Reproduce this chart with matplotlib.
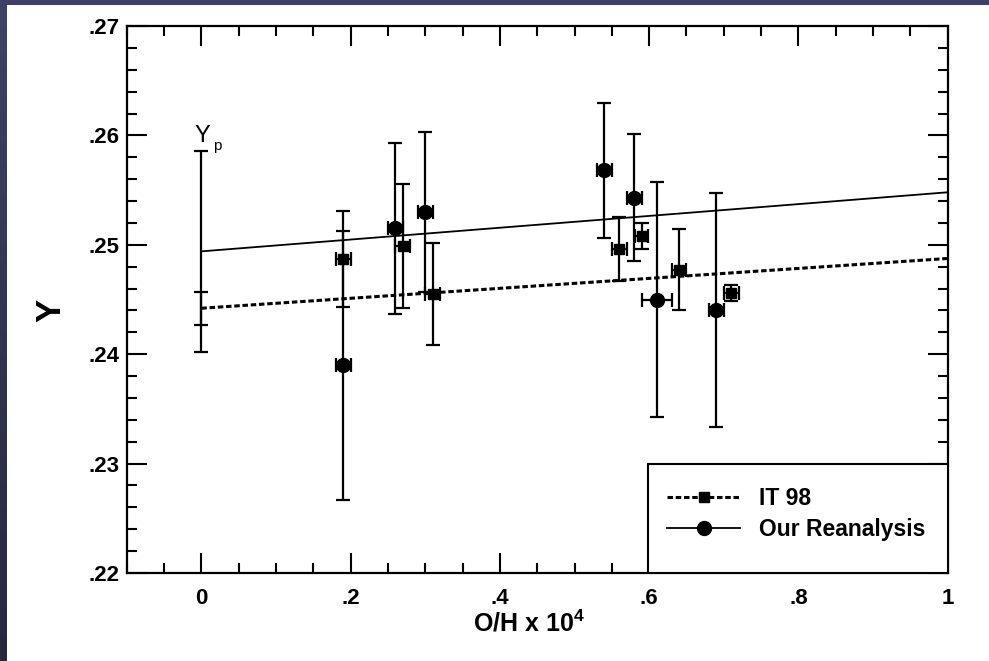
import numpy as np
import matplotlib
matplotlib.use('Agg')
import matplotlib.pyplot as plt
from matplotlib.patches import Rectangle
from matplotlib.lines import Line2D
from matplotlib.ticker import MultipleLocator, FuncFormatter

plt.rcParams['font.family'] = ['Liberation Sans', 'DejaVu Sans']

# IT 98 helium abundances (squares)
it_oh = [0.19, 0.27, 0.31, 0.56, 0.59, 0.64, 0.71]
it_y = [0.2487, 0.2499, 0.2455, 0.2496, 0.2508, 0.2477, 0.2456]
it_yerr = [0.0044, 0.0057, 0.0047, 0.0029, 0.0012, 0.0037, 0.0007]
it_oherr = [0.01, 0.01, 0.01, 0.01, 0.009, 0.01, 0.01]

# reanalysed abundances (circles)
re_oh = [0.19, 0.26, 0.30, 0.54, 0.58, 0.61, 0.69]
re_y = [0.2390, 0.2515, 0.2530, 0.2568, 0.2543, 0.2450, 0.2440]
re_yerr = [0.0123, 0.0078, 0.0073, 0.0062, 0.0058, 0.0107, 0.0107]
re_oherr = [0.01, 0.01, 0.01, 0.01, 0.01, 0.02, 0.01]

# linear fits: Y = Yp + slope * O/H
it_yp, it_yp_err, it_slope = 0.2442, 0.0015, 0.00455
re_yp, re_yp_err, re_slope = 0.2494, 0.0092, 0.0054

W, H = 989, 661
fig = plt.figure(figsize=(W / 100, H / 100), dpi=100)
fig.patch.set_facecolor('white')

# slide frame: dark strips along the top and left edge
band = fig.add_axes([0, 0, 7 / W, 1])
grad = np.linspace(0, 1, 200)[:, None]
top_col = np.array([62, 66, 100]) / 255
bot_col = np.array([38, 40, 62]) / 255
band.imshow(top_col + grad[..., None] * (bot_col - top_col), aspect='auto',
            extent=[0, 1, 0, 1])
band.axis('off')
fig.add_artist(Rectangle((0, 1 - 5 / H), 1, 5 / H, transform=fig.transFigure,
                         color='#3d4064', lw=0))

ax = fig.add_axes([126.7 / W, 1 - 573 / H, 821 / W, 547 / H])
ax.set_xlim(-0.1, 1.0)
ax.set_ylim(0.22, 0.27)

eb = dict(color='black', ecolor='black', elinewidth=1.6, capsize=5, capthick=1.6,
          linestyle='none')
ax.errorbar(it_oh, it_y, yerr=it_yerr, xerr=it_oherr, fmt='s', ms=6.5, **eb)
ax.errorbar(re_oh, re_y, yerr=re_yerr, xerr=re_oherr, fmt='o', ms=10, **eb)

# primordial values at O/H = 0
ax.errorbar([0], [re_yp], yerr=[re_yp_err], fmt='none', **eb)
ax.errorbar([0], [it_yp], yerr=[it_yp_err], fmt='none', **eb)

oh = np.array([0.0, 1.0])
ax.plot(oh, re_yp + re_slope * oh, color='black', lw=1.3)
ax.plot(oh, it_yp + it_slope * oh, color='black', lw=2.2, ls=(0, (1.8, 0.9)))

ax.text(-0.009, 0.2594, 'Y', fontsize=17, ha='left', va='baseline')
ax.text(0.016, 0.2587, 'p', fontsize=11, ha='left', va='baseline')

# ticks on all four sides, pointing inward
ax.xaxis.set_major_locator(MultipleLocator(0.2))
ax.xaxis.set_minor_locator(MultipleLocator(0.05))
ax.yaxis.set_major_locator(MultipleLocator(0.01))
ax.yaxis.set_minor_locator(MultipleLocator(0.002))


def short_label(dec):
    def fmt(v, pos):
        s = f'{v:.{dec}f}'.rstrip('0').rstrip('.')
        if s.startswith('0.'):
            s = s[1:]
        return s if s else '0'
    return FuncFormatter(fmt)


ax.xaxis.set_major_formatter(short_label(1))
ax.yaxis.set_major_formatter(short_label(2))
ax.tick_params(which='both', direction='in', top=True, right=True, width=1.5)
ax.tick_params(which='major', length=14.5, labelsize=16)
ax.tick_params(which='minor', length=7.2)
ax.tick_params(axis='x', pad=11)
ax.tick_params(axis='y', pad=5)
for lab in ax.get_xticklabels() + ax.get_yticklabels():
    lab.set_fontweight('bold')
for s in ax.spines.values():
    s.set_linewidth(1.6)

ax.set_ylabel('Y', fontsize=25, fontweight='bold', va='center')
ax.yaxis.set_label_coords(-0.092, 0.48)
ax.set_xlabel(r'O/H x 10$^{\mathregular{4}}$', fontsize=18, fontweight='bold',
              va='center')
ax.xaxis.set_label_coords(0.49, -0.092)

# legend box anchored to the lower right corner
ax.add_patch(Rectangle((0.635, 0), 0.365, 0.199, transform=ax.transAxes,
                       facecolor='white', edgecolor='black', lw=1.5, zorder=3))
handles = [
    Line2D([], [], color='black', lw=2.2, ls=(0, (1.8, 0.9)), marker='s', ms=6.5),
    Line2D([], [], color='black', lw=1.3, marker='o', ms=10),
]
leg = ax.legend(handles, ['IT 98', 'Our Reanalysis'], loc='center left',
                bbox_to_anchor=(0.658, 0.107), frameon=False, borderpad=0,
                borderaxespad=0, handlelength=3.2, handletextpad=0.8,
                labelspacing=0.35, numpoints=1,
                prop={'size': 16.5, 'weight': 'bold'})
leg.set_zorder(4)

fig.savefig('out.png', dpi=100)
